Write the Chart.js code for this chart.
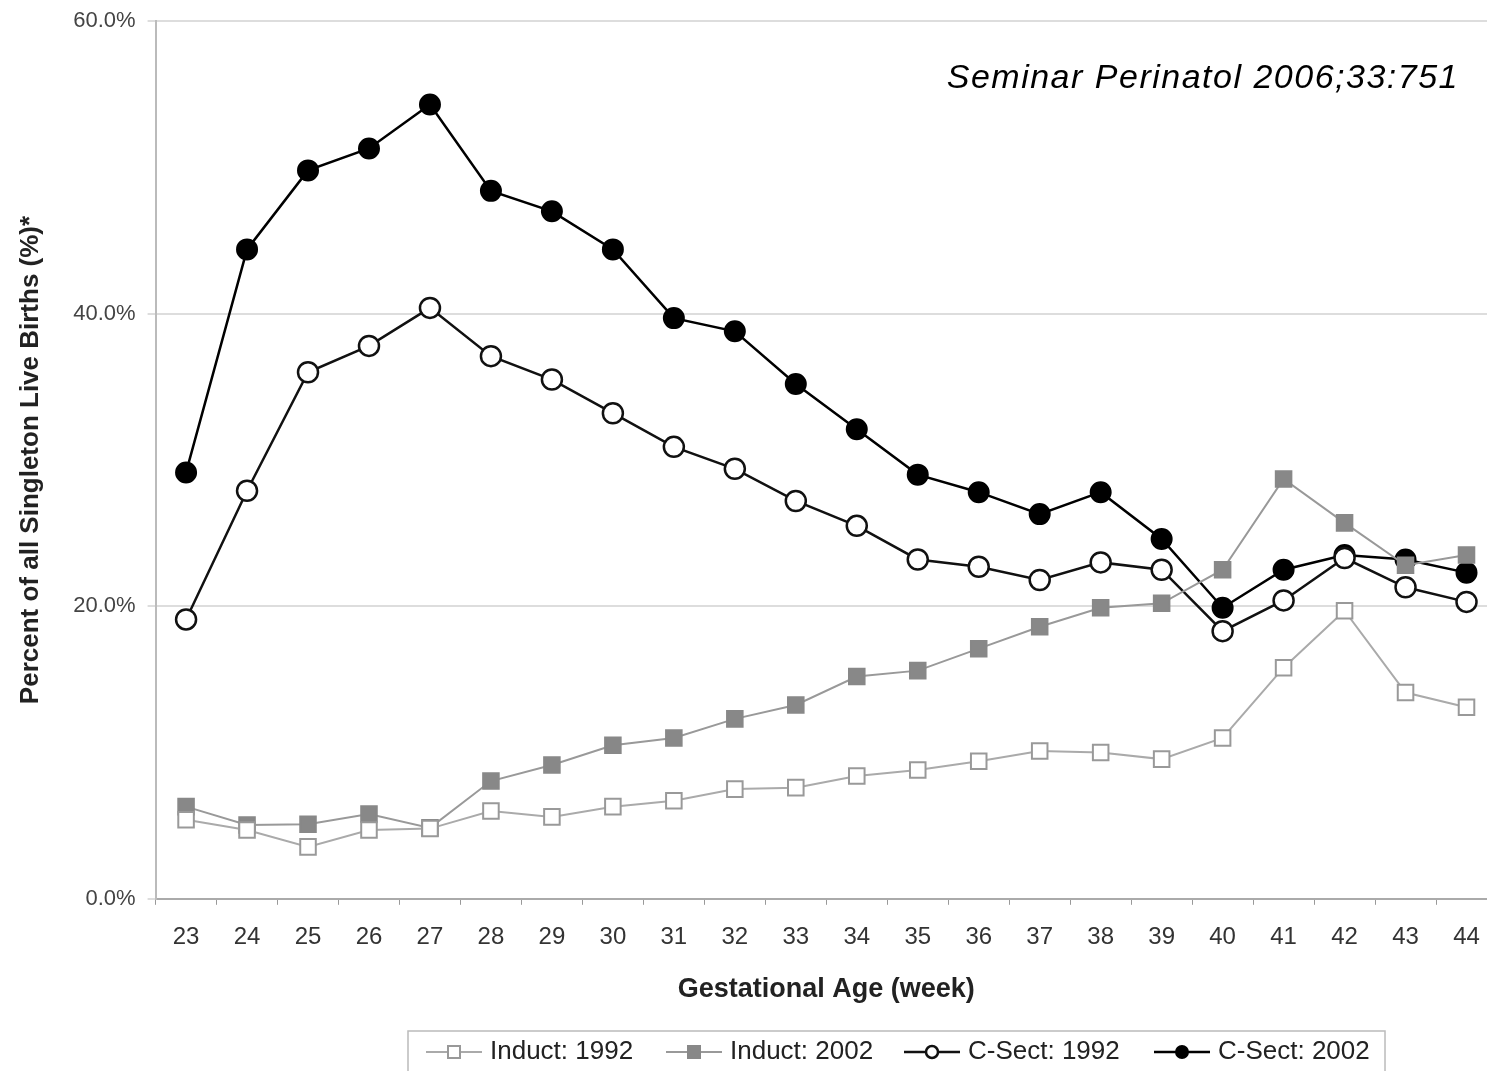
<!DOCTYPE html>
<html>
<head>
<meta charset="utf-8">
<script src="https://cdn.jsdelivr.net/npm/chart.js@4/dist/chart.umd.min.js"></script>
<style>
  html, body { margin: 0; padding: 0; background: #fff; overflow: hidden; }
  #wrap { position: absolute; left: 0; top: -4px; width: 1510px; height: 1075px; }
</style>
</head>
<body>
<div id="wrap"><canvas id="partoChart" width="1510" height="1075"></canvas></div>
<script>
// --- datos ---
const semanas = ['23','24','25','26','27','28','29','30','31','32','33','34','35','36','37','38','39','40','41','42','43','44'];
const induct1992 = [5.4, 4.7, 3.55, 4.7, 4.8, 6.0, 5.6, 6.3, 6.7, 7.5, 7.6, 8.4, 8.8, 9.4, 10.1, 10.0, 9.55, 11.0, 15.8, 19.7, 14.1, 13.1];
const induct2002 = [6.3, 5.05, 5.1, 5.8, 4.85, 8.05, 9.15, 10.5, 11.0, 12.3, 13.25, 15.2, 15.6, 17.1, 18.6, 19.9, 20.2, 22.5, 28.7, 25.7, 22.8, 23.5];
const csect1992 = [19.1, 27.9, 36.0, 37.8, 40.4, 37.1, 35.5, 33.2, 30.9, 29.4, 27.2, 25.5, 23.2, 22.7, 21.8, 23.0, 22.5, 18.3, 20.4, 23.3, 21.3, 20.3];
const csect2002 = [29.15, 44.4, 49.8, 51.3, 54.3, 48.4, 47.0, 44.4, 39.7, 38.8, 35.2, 32.1, 29.0, 27.8, 26.3, 27.8, 24.6, 19.9, 22.5, 23.5, 23.2, 22.3];
const yTicks = [0, 20, 40, 60];

const fuente = '"Liberation Sans", Arial, sans-serif';

// leyenda con recuadro (linea + marcador) y la cita
const leyendaPlugin = {
    id: 'leyendaCaja',
    afterDraw(chart) {
        const ctx = chart.ctx;
        ctx.save();
        ctx.strokeStyle = '#bbb';
        ctx.lineWidth = 1.5;
        ctx.strokeRect(408, 1035, 977, 45);
        const items = [
            { x: 426, ds: 0 }, { x: 666, ds: 1 }, { x: 904, ds: 2 }, { x: 1154, ds: 3 }
        ];
        const y = 1056;
        items.forEach(it => {
            const ds = chart.data.datasets[it.ds];
            ctx.strokeStyle = ds.borderColor;
            ctx.lineWidth = ds.borderWidth;
            ctx.beginPath();
            ctx.moveTo(it.x, y);
            ctx.lineTo(it.x + 56, y);
            ctx.stroke();
            ctx.fillStyle = ds.pointBackgroundColor;
            ctx.strokeStyle = ds.pointBorderColor;
            ctx.lineWidth = ds.pointBorderWidth;
            ctx.beginPath();
            if (ds.pointStyle === 'rect') {
                ctx.rect(it.x + 28 - 6, y - 6, 12, 12);
            } else {
                ctx.arc(it.x + 28, y, 6, 0, Math.PI * 2);
            }
            ctx.fill();
            ctx.stroke();
            ctx.fillStyle = '#222';
            ctx.font = '26px ' + fuente;
            ctx.textBaseline = 'middle';
            ctx.fillText(ds.label, it.x + 64, y);
        });
        // cita
        ctx.font = 'italic 34px ' + fuente;
        ctx.letterSpacing = '1.5px';
        ctx.fillStyle = '#000';
        ctx.textAlign = 'right';
        ctx.textBaseline = 'alphabetic';
        ctx.fillText('Seminar Perinatol 2006;33:751', 1459, 92);
        ctx.restore();
    }
};

const ctxParto = document.getElementById('partoChart').getContext('2d');
const partoChart = new Chart(ctxParto, {
    type: 'line',
    data: {
        labels: semanas,
        datasets: [
            {
                label: 'Induct: 1992',
                data: induct1992,
                borderColor: '#aaa',
                borderWidth: 2,
                pointStyle: 'rect',
                pointRadius: 11,
                pointBackgroundColor: '#fff',
                pointBorderColor: '#999',
                pointBorderWidth: 2
            },
            {
                label: 'Induct: 2002',
                data: induct2002,
                borderColor: '#999',
                borderWidth: 2,
                pointStyle: 'rect',
                pointRadius: 11,
                pointBackgroundColor: '#888',
                pointBorderColor: '#888',
                pointBorderWidth: 2
            },
            {
                label: 'C-Sect: 1992',
                data: csect1992,
                borderColor: '#111',
                borderWidth: 2.5,
                pointStyle: 'circle',
                pointRadius: 10,
                pointBackgroundColor: '#fff',
                pointBorderColor: '#111',
                pointBorderWidth: 2.5
            },
            {
                label: 'C-Sect: 2002',
                data: csect2002,
                borderColor: '#000',
                borderWidth: 2.5,
                pointStyle: 'circle',
                pointRadius: 10,
                pointBackgroundColor: '#000',
                pointBorderColor: '#000',
                pointBorderWidth: 2
            }
        ]
    },
    options: {
        responsive: false,
        animation: false,
        layout: { padding: { top: 2, right: 3, bottom: 65, left: 15 } },
        scales: {
            x: {
                offset: true,
                grid: { drawOnChartArea: false, drawTicks: true, tickLength: 6, color: '#999', offset: true },
                border: { color: '#aaa', width: 2 },
                ticks: { font: { size: 24, family: fuente }, color: '#333', padding: 18 },
                title: {
                    display: true,
                    text: 'Gestational Age (week)',
                    font: { size: 27, weight: 'bold', family: fuente },
                    color: '#222',
                    padding: { top: 4, bottom: 0 }
                }
            },
            y: {
                min: 0,
                max: 60,
                afterBuildTicks: (axis) => { axis.ticks = yTicks.map(v => ({ value: v })); },
                grid: { color: '#ddd', lineWidth: 2, tickLength: 8 },
                border: { color: '#bbb', width: 2 },
                ticks: {
                    font: { size: 22, family: fuente },
                    color: '#444',
                    padding: 12,
                    callback: (v) => v.toFixed(1) + '%'
                },
                title: {
                    display: true,
                    text: 'Percent of all Singleton Live Births (%)*',
                    font: { size: 26, weight: 'bold', family: fuente },
                    color: '#222',
                    padding: { top: 0, bottom: 15 }
                }
            }
        },
        plugins: {
            legend: { display: false },
            tooltip: { enabled: false }
        }
    },
    plugins: [leyendaPlugin]
});
</script>
</body>
</html>
